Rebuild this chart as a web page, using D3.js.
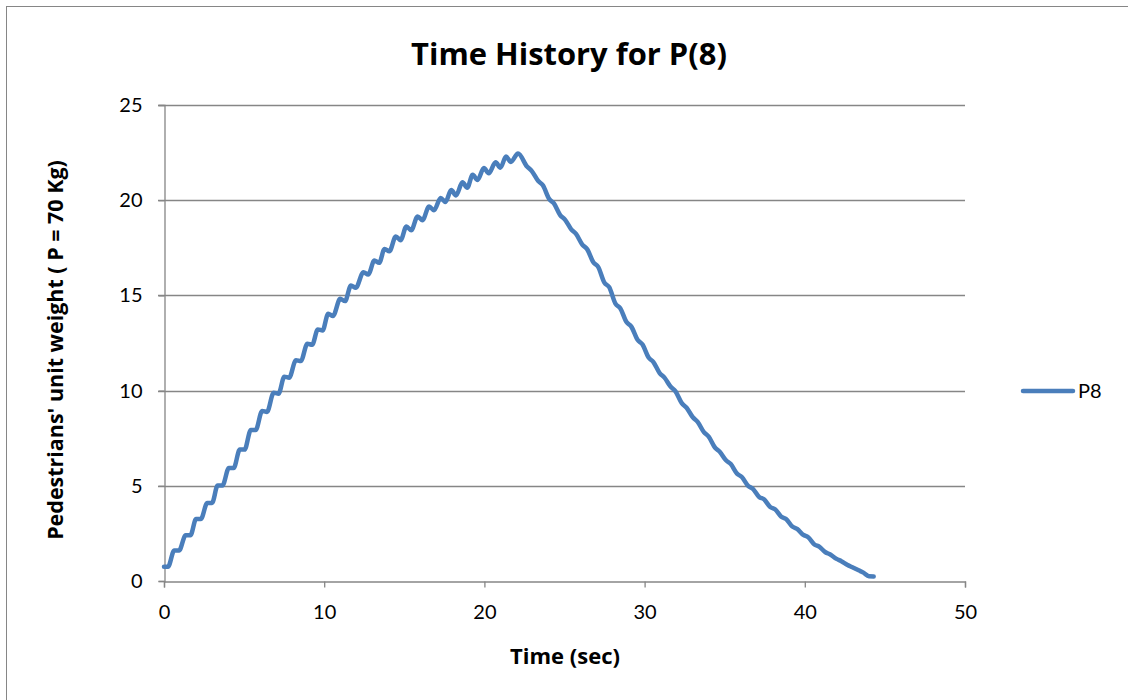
<!DOCTYPE html>
<html><head><meta charset="utf-8">
<script src="https://cdn.jsdelivr.net/npm/d3@7"></script>
<style>body{margin:0;background:#fff;} svg{display:block;}</style>
</head><body>
<script>
const chartTitle = "Time History for P(8)";
const xTitle = "Time (sec)";
const yTitle = "Pedestrians' unit weight ( P = 70 Kg)";
const seriesName = "P8";
const xTicks = [0, 10, 20, 30, 40, 50];
const yTicks = [0, 5, 10, 15, 20, 25];
const timeSec = [
 0.0,0.25,0.64,0.94,1.35,1.65,2.0,2.3,2.7,3.0,3.35,3.65,4.05,4.35,4.73,5.03,5.42,5.72,
 6.13,6.43,6.85,7.15,7.51,7.81,8.24,8.54,8.95,9.25,9.6,9.9,
 10.25,10.55,11.0,11.3,11.67,11.97,12.45,12.75,13.13,13.43,13.77,14.07,
 14.47,14.77,15.13,15.43,15.83,16.13,16.55,16.85,17.27,17.57,
 17.93,18.23,18.63,18.93,19.27,19.57,19.97,20.27,20.7,21.0,21.35,21.65,
 22.1,
 22.66,22.96,23.35,23.65,24.04,24.34,24.73,25.03,25.42,25.72,26.11,26.41,26.8,27.1,
 27.49,27.79,28.18,28.48,28.87,29.17,29.56,29.86,30.25,30.55,30.94,31.24,31.63,31.93,
 32.32,32.62,33.01,33.31,33.7,34.0,34.39,34.69,35.08,35.38,35.77,36.07,36.46,36.76,
 37.15,37.45,37.84,38.14,38.53,38.83,39.22,39.52,39.91,40.21,40.6,40.9,41.29,41.59,
 41.98,42.28,42.67,42.97,43.36,43.66,44.0,44.3
];
const p8Values = [
 0.75,0.75,1.6,1.6,2.4,2.4,3.25,3.25,4.1,4.1,5.02,5.02,5.93,5.93,6.9,6.9,7.93,7.93,
 8.93,8.88,9.89,9.84,10.73,10.68,11.6,11.55,12.46,12.41,13.21,13.16,
 14.04,13.92,14.82,14.7,15.52,15.4,16.22,16.1,16.83,16.71,17.44,17.32,
 18.1,17.9,18.62,18.42,19.15,18.95,19.67,19.47,20.11,19.91,
 20.53,20.25,20.94,20.66,21.34,21.06,21.69,21.41,21.99,21.71,22.29,22.01,
 22.45,
 21.77,21.53,21.02,20.78,20.07,19.83,19.22,18.98,18.47,18.23,17.67,17.43,16.74,16.5,
 15.67,15.43,14.57,14.33,13.6,13.36,12.67,12.43,11.74,11.5,10.92,10.68,10.2,9.96,
 9.34,9.1,8.6,8.36,7.82,7.58,7.01,6.79,6.34,6.14,5.64,5.46,5.0,4.84,
 4.41,4.29,3.89,3.77,3.38,3.26,2.86,2.74,2.42,2.3,1.92,1.8,1.51,1.39,
 1.16,1.04,0.84,0.72,0.56,0.44,0.25,0.24
];

const W = 1128, H = 700;
const margin = {left: 164, right: 163, top: 105, bottom: 119};
const svg = d3.select("body").append("svg").attr("width", W).attr("height", H);
const font = "'Open Sans', Lato, sans-serif";
const tickFont = "Lato, 'Open Sans', sans-serif";
const gridColor = "#868686";
const lineColor = "#4a7ebb";

svg.append("rect").attr("x", 6.5).attr("y", 6.5).attr("width", 1130).attr("height", 700)
  .attr("fill", "#fff").attr("stroke", "#868686").attr("stroke-width", 1);

const x = d3.scaleLinear().domain([0, 50]).range([margin.left, W - margin.right]);
const y = d3.scaleLinear().domain([0, 25]).range([H - margin.bottom, margin.top]);

svg.append("g").selectAll("line").data(yTicks.filter(d => d > 0)).join("line")
  .attr("x1", x(0) - 6).attr("x2", x(50)).attr("y1", d => Math.round(y(d)) + 0.5).attr("y2", d => Math.round(y(d)) + 0.5)
  .attr("stroke", gridColor).attr("stroke-width", 1.3);

const xAxis = d3.axisBottom(x).tickValues(xTicks).tickSize(6).tickPadding(17);
const gx = svg.append("g").attr("transform", `translate(0,${Math.round(y(0)) + 0.5})`).call(xAxis);
const yAxis = d3.axisLeft(y).tickValues(yTicks).tickSize(6).tickPadding(16);
const gy = svg.append("g").attr("transform", `translate(${Math.round(x(0)) + 0.5},0)`).call(yAxis);
[gx, gy].forEach(g => {
  g.select(".domain").attr("stroke", gridColor).attr("stroke-width", 1.3);
  g.selectAll(".tick line").attr("stroke", gridColor).attr("stroke-width", 1.3);
  g.selectAll(".tick text").attr("font-family", tickFont).attr("font-size", 20).attr("fill", "#000");
});

const pts = timeSec.map((t, i) => [t, p8Values[i]]);
const line = d3.line().x(d => x(d[0])).y(d => y(d[1])).curve(d3.curveMonotoneX);
svg.append("path").datum(pts).attr("d", line).attr("fill", "none")
  .attr("stroke", lineColor).attr("stroke-width", 4.5).attr("stroke-linejoin", "round").attr("stroke-linecap", "round");

function fitText(sel, target, base) {
  const w = sel.node().getComputedTextLength();
  sel.attr("font-size", base * target / w);
}
const t1 = svg.append("text").attr("x", 569).attr("y", 65).attr("text-anchor", "middle")
  .attr("font-family", font).attr("font-weight", "bold").attr("font-size", 24).text(chartTitle);
fitText(t1, 316, 24);
const t2 = svg.append("text").attr("x", 565).attr("y", 664).attr("text-anchor", "middle")
  .attr("font-family", font).attr("font-weight", "bold").attr("font-size", 18).text(xTitle);
fitText(t2, 110, 18);
const t3 = svg.append("text").attr("transform", "translate(63,350) rotate(-90)").attr("text-anchor", "middle")
  .attr("font-family", font).attr("font-weight", "bold").attr("font-size", 18).text(yTitle);
fitText(t3, 380, 18);

svg.append("line").attr("x1", 1023).attr("x2", 1073).attr("y1", 391).attr("y2", 391)
  .attr("stroke", lineColor).attr("stroke-width", 4.5).attr("stroke-linecap", "round");
svg.append("text").attr("x", 1078).attr("y", 398).attr("font-family", tickFont).attr("font-size", 20).text(seriesName);
</script>
</body></html>
